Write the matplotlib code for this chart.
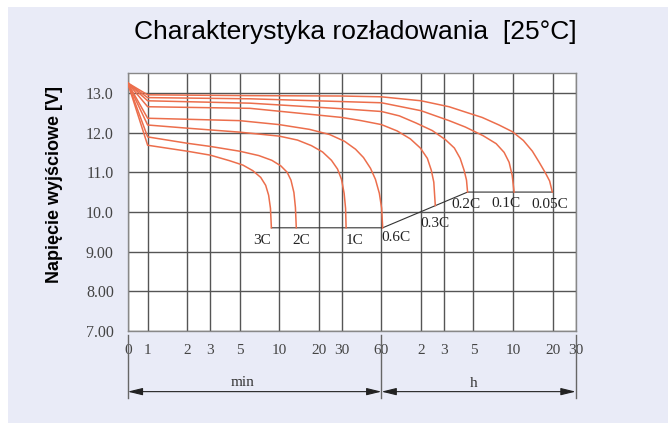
import numpy as np
import matplotlib
matplotlib.use('Agg')
import matplotlib.pyplot as plt
from matplotlib.patches import Rectangle
from matplotlib.ticker import NullLocator

# czas w minutach, napiecie w V
t_3c = [0, 1, 2, 3, 4.2, 5.3, 6.3, 7.24, 7.9, 8.32, 8.59, 8.73]
v_3c = [13.25, 11.68, 11.53, 11.43, 11.29, 11.18, 11.04, 10.87, 10.67, 10.42, 10.09, 9.6]
t_2c = [0, 1, 2, 3, 5, 7, 8.8, 10.3, 11.5, 12.3, 12.95, 13.3, 13.5]
v_2c = [13.25, 11.89, 11.73, 11.65, 11.53, 11.42, 11.3, 11.16, 11.0, 10.8, 10.49, 10.11, 9.6]
t_1c = [0, 1, 2, 5, 10, 13.8, 17.6, 21.4, 25, 27.8, 29.8, 31.2, 32, 32.3]
v_1c = [13.25, 12.19, 12.11, 12.01, 11.91, 11.81, 11.67, 11.51, 11.3, 11.08, 10.82, 10.47, 10.09, 9.6]
t_06c = [0, 1, 5, 10, 17, 24.2, 31.4, 38.1, 43.8, 49.5, 54, 57.8, 60.2, 61.3]
v_06c = [13.25, 12.36, 12.3, 12.2, 12.08, 11.95, 11.78, 11.58, 11.37, 11.1, 10.82, 10.47, 10.09, 9.6]
t_03c = [0, 1, 6, 30, 42, 60, 79, 99.5, 118.5, 134, 143.6, 150, 154]
v_03c = [13.25, 12.65, 12.61, 12.38, 12.3, 12.2, 12.04, 11.84, 11.61, 11.35, 11.05, 10.75, 10.16]
t_02c = [0, 1, 6, 30, 60, 82, 110, 146, 184, 215, 238, 255, 266, 271]
v_02c = [13.25, 12.8, 12.74, 12.6, 12.53, 12.42, 12.24, 12.05, 11.82, 11.61, 11.35, 11.05, 10.8, 10.5]
t_01c = [0, 1, 6, 60, 120, 196, 260, 356, 447, 514, 561, 592, 612]
v_01c = [13.25, 12.88, 12.85, 12.75, 12.55, 12.3, 12.14, 11.92, 11.72, 11.5, 11.25, 10.92, 10.5]
t_005c = [0, 1, 6, 30, 60, 120, 196, 270, 350, 470, 595, 720, 843, 950, 1060, 1140, 1195]
v_005c = [13.25, 12.95, 12.93, 12.92, 12.9, 12.8, 12.65, 12.5, 12.38, 12.19, 12.02, 11.8, 11.53, 11.25, 10.98, 10.78, 10.5]

labels = ['3C', '2C', '1C', '0.6C', '0.3C', '0.2C', '0.1C', '0.05C']
curves = [(t_3c, v_3c), (t_2c, v_2c), (t_1c, v_1c), (t_06c, v_06c),
          (t_03c, v_03c), (t_02c, v_02c), (t_01c, v_01c), (t_005c, v_005c)]

x_ticks = [0, 1, 2, 3, 5, 10, 20, 30, 60, 120, 180, 300, 600, 1200, 1800]
x_labels = ['0', '1', '2', '3', '5', '10', '20', '30', '60', '2', '3', '5', '10', '20', '30']
y_ticks = [7, 8, 9, 10, 11, 12, 13]
y_labels = ['7.00', '8.00', '9.00', '10.0', '11.0', '12.0', '13.0']

# przesuniecia etykiet (piksele)
lab_off = [(-9, -13), (5, -13), (8, -13), (13, -10), (0, -18), (-2, -12), (-8, -11), (-3, -12)]

K = 0.1517  # szerokosc odcinka 0-1 min wzgledem dekady


def fwd(t):
    t = np.asarray(t, dtype=float)
    return np.where(t >= 1, np.log10(np.maximum(t, 1)), (t - 1) * K)


def inv(p):
    p = np.asarray(p, dtype=float)
    return np.where(p >= 0, 10 ** np.maximum(p, 0), p / K + 1)


fig = plt.figure(figsize=(6.68, 4.23), dpi=100)
fig.patch.set_facecolor('white')
fig.patches.append(Rectangle((8 / 668, 0), 1, (423 - 7) / 423, transform=fig.transFigure,
                             facecolor='#E9EBF7', edgecolor='none', zorder=-10))

ax = fig.add_axes([127.7 / 668, 92 / 423, 448 / 668, 258 / 423])
ax.set_facecolor('white')
ax.set_xscale('function', functions=(fwd, inv))
ax.set_xlim(0, 1800)
ax.set_ylim(7, 13.5)

serif = 'Liberation Serif'
ax.set_xticks(x_ticks)
ax.set_xticklabels(x_labels, fontfamily=serif, fontsize=11, color='#444')
ax.xaxis.set_minor_locator(NullLocator())
ax.set_yticks(y_ticks)
ax.set_yticklabels(y_labels, fontfamily=serif, fontsize=11.5, color='#444')
ax.tick_params(axis='x', length=0, pad=9)
ax.tick_params(axis='y', length=0, pad=10)
ax.grid(True, color='#555555', lw=1.0)
for s in ax.spines.values():
    s.set_color('#888888')
    s.set_linewidth(1.0)

for (t, v) in curves:
    ax.plot(t, v, color='#EC6E4C', lw=1.1, zorder=3)

# linia napiecia koncowego
cut_t = [t_3c[-1], t_06c[-1], t_02c[-1], t_005c[-1]]
cut_v = [v_3c[-1], v_06c[-1], v_02c[-1], v_005c[-1]]
ax.plot(cut_t, cut_v, color='#333333', lw=0.8, zorder=2)

for lab, (t, v), off in zip(labels, curves, lab_off):
    ax.annotate(lab, xy=(t[-1], v[-1]), xytext=off, textcoords='offset pixels',
                ha='center', va='center', fontfamily=serif, fontsize=11, color='#222')

ax.set_ylabel('Napięcie wyjściowe [V]', fontfamily='Liberation Sans', fontweight='bold',
              fontsize=13, color='black')
ax.yaxis.set_label_coords(-0.144, 0.566)

# wymiarowanie pod osia
tr = ax.get_xaxis_transform()
for xv in [0, 60, 1800]:
    ax.plot([xv, xv], [-0.0155, -0.26], transform=tr, color='#666666', lw=1.0, clip_on=False)
for a, b in [(0, 60), (60, 1800)]:
    ax.annotate('', xy=(a, -0.235), xytext=(b, -0.235), xycoords=tr, textcoords=tr,
                arrowprops=dict(arrowstyle='<|-|>,head_length=0.9,head_width=0.22',
                                color='#222', lw=0.8, shrinkA=0, shrinkB=0))
ax.text(5.3, -0.2, 'min', transform=tr, ha='center', va='center',
        fontfamily=serif, fontsize=11, color='#333')
ax.text(300, -0.205, 'h', transform=tr, ha='center', va='center',
        fontfamily=serif, fontsize=11, color='#333')

fig.text(355 / 668, 1 - 32 / 423, 'Charakterystyka rozładowania  [25°C]',
         ha='center', va='center', fontfamily='Liberation Sans', fontsize=19)

fig.savefig('out.png', dpi=100)
